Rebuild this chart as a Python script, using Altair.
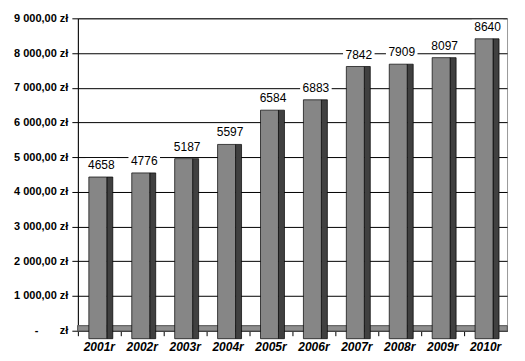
import altair as alt
import pandas as pd

years = ['2001r', '2002r', '2003r', '2004r', '2005r', '2006r', '2007r', '2008r', '2009r', '2010r']
values = [4658, 4776, 5187, 5597, 6584, 6883, 7842, 7909, 8097, 8640]

df = pd.DataFrame({'rok': years, 'wartosc': values})

W, H = 430, 313
FONT = 'Liberation Sans'

nb = '\u00a0'
label_expr = (
    "datum.value == 0 ? '-" + nb * 7 + "zł' : "
    "replace(replace(format(datum.value, ',.2f'), ',', ' '), '.', ',') + ' zł'"
)

x_axis = alt.Axis(labelAngle=0, bandPosition=0, labelOffset=0,
                  labelFont=FONT, labelFontSize=12, labelFontWeight='bold',
                  labelFontStyle='italic', labelColor='black', labelPadding=6,
                  ticks=True, tickColor='black', tickSize=5, tickWidth=1,
                  domainColor='black', grid=False)
x_enc = alt.X('rok:N', sort=years, title=None,
              scale=alt.Scale(paddingInner=0, paddingOuter=0), axis=x_axis)
y_scale = alt.Scale(domain=[0, 9000], nice=False)
y_axis = alt.Axis(values=list(range(0, 9001, 1000)), labelExpr=label_expr,
                  labelOverlap=False,
                  labelFont=FONT, labelFontSize=11, labelFontWeight='bold',
                  labelColor='black', tickColor='black', tickSize=6,
                  domainColor='black', labelPadding=4,
                  grid=True, gridColor='black', gridWidth=1, title=None)
y_enc = alt.Y('wartosc:Q', scale=y_scale, axis=y_axis)

base = alt.Chart(df)

floor = base.mark_rect(color='#8e8e8e', stroke='#5a5a5a', strokeWidth=0.6).encode(
    x=alt.value(0), x2=alt.value(W),
    y=alt.datum(0, scale=y_scale, axis=y_axis), y2=alt.datum(140))

side = base.mark_bar(size=6, xOffset=10.5, yOffset=8, color='#404040',
                     stroke='black', strokeWidth=0.7).encode(x=x_enc, y=y_enc)

front = base.mark_bar(size=18, xOffset=-1.5, yOffset=8, color='#868686',
                      stroke='black', strokeWidth=0.7).encode(x=x_enc, y=y_enc)

bg = base.mark_point(shape='M-1,-0.45L1,-0.45L1,0.45L-1,0.45Z', filled=True,
                     color='white', opacity=1, size=1000, xOffset=2, yOffset=-4).encode(
    x=x_enc, y=y_enc)

txt = base.mark_text(font=FONT, fontSize=12, color='black', xOffset=2, dy=-4,
                     baseline='middle').encode(
    x=x_enc, y=y_enc, text=alt.Text('wartosc:Q', format='d'))

chart = alt.layer(floor, side, front, bg, txt).properties(
    width=W, height=H,
    autosize=alt.AutoSizeParams(type='none'),
    padding={'left': 70, 'top': 10, 'right': 10, 'bottom': 25},
    background='white'
).configure_view(stroke='#9a9a9a', strokeWidth=1)

chart.save("out.html", embed_options={"renderer": "svg", "actions": False})
